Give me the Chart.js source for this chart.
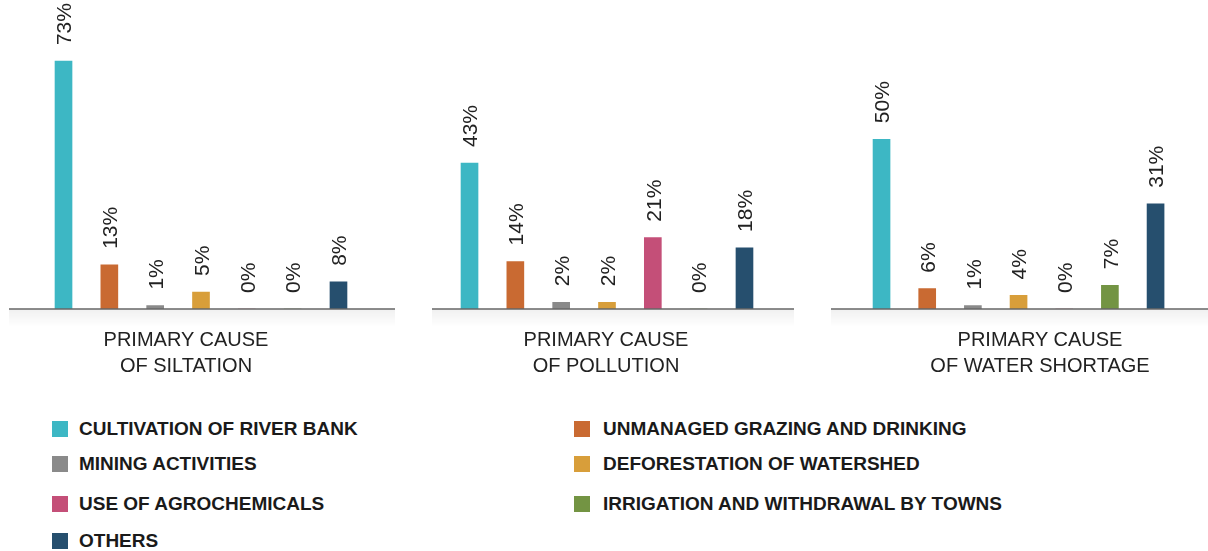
<!DOCTYPE html>
<html>
<head>
<meta charset="utf-8">
<script src="https://cdn.jsdelivr.net/npm/chart.js@4.4.1/dist/chart.umd.min.js"></script>
<style>
  html, body { margin: 0; padding: 0; background: #fff; }
  body { width: 1208px; height: 551px; position: relative; overflow: hidden; font-family: "Liberation Sans", Arial, sans-serif; }
  .panel { position: absolute; top: 0; height: 330px; }
  .title { position: absolute; top: 326px; font-size: 20px; line-height: 26px; color: #222; text-align: center; white-space: nowrap; transform: translateX(-50%); }
  .leg { position: absolute; display: flex; align-items: center; height: 16px; font-size: 19px; font-weight: bold; color: #1a1a1a; white-space: nowrap; line-height: 18px; }
  .leg .sw { width: 16px; height: 16px; margin-right: 11px; flex: none; }
</style>
</head>
<body>
<div class="panel" style="left:9px;width:386px"><canvas id="c0"></canvas></div>
<div class="panel" style="left:432px;width:362px"><canvas id="c1"></canvas></div>
<div class="panel" style="left:831px;width:377px"><canvas id="c2"></canvas></div>
<div id="titles"></div>
<div id="legend"></div>
<script>
// ---- data ----
const categories = [
  "CULTIVATION OF RIVER BANK",
  "UNMANAGED GRAZING AND DRINKING",
  "MINING ACTIVITIES",
  "DEFORESTATION OF WATERSHED",
  "USE OF AGROCHEMICALS",
  "IRRIGATION AND WITHDRAWAL BY TOWNS",
  "OTHERS"
];
const siltation    = [73, 13, 1, 5, 0, 0, 8];
const pollution    = [43, 14, 2, 2, 21, 0, 18];
const waterShortage = [50, 6, 1, 4, 0, 7, 31];
const panelTitles = [
  ["PRIMARY CAUSE", "OF SILTATION"],
  ["PRIMARY CAUSE", "OF POLLUTION"],
  ["PRIMARY CAUSE", "OF WATER SHORTAGE"]
];

// ---- styles ----
const colors = ["#3db7c4", "#c96a32", "#8a8a8a", "#d89e3a", "#c44f78", "#739443", "#264f6e"];
const panelSeries = [siltation, pollution, waterShortage];
const paddings = [
  {left: 31.6, right: 33.6, top: 0, bottom: 21},
  {left: 14.6, right: 26.6, top: 0, bottom: 21},
  {left: 27.7, right: 29.6, top: 0, bottom: 21}
];
const titleCenters = [186, 606, 1040];

const baselinePlugin = {
  id: 'baseline',
  beforeDatasetsDraw(chart) {
    const ctx = chart.ctx, b = chart.chartArea.bottom, w = chart.width;
    const g = ctx.createLinearGradient(0, b, 0, b + 18);
    g.addColorStop(0, 'rgba(0,0,0,0.06)');
    g.addColorStop(1, 'rgba(0,0,0,0)');
    ctx.save();
    ctx.fillStyle = g;
    ctx.fillRect(0, b, w, 18);
    ctx.restore();
  },
  afterDatasetsDraw(chart) {
    const ctx = chart.ctx, b = chart.chartArea.bottom, w = chart.width;
    ctx.save();
    ctx.strokeStyle = '#666666';
    ctx.lineWidth = 1.6;
    ctx.beginPath();
    ctx.moveTo(0, b);
    ctx.lineTo(w, b);
    ctx.stroke();
    ctx.restore();
  }
};

const valueLabelPlugin = {
  id: 'valueLabels',
  afterDatasetsDraw(chart) {
    const ctx = chart.ctx;
    const meta = chart.getDatasetMeta(0);
    const data = chart.data.datasets[0].data;
    ctx.save();
    ctx.fillStyle = '#222';
    ctx.font = '21px "Liberation Sans", Arial, sans-serif';
    ctx.textAlign = 'left';
    ctx.textBaseline = 'middle';
    meta.data.forEach((el, i) => {
      ctx.save();
      ctx.translate(el.x + 2, el.y - 16);
      ctx.rotate(-Math.PI / 2);
      ctx.fillText(data[i] + '%', 0, 0);
      ctx.restore();
    });
    ctx.restore();
  }
};

panelSeries.forEach((series, p) => {
  new Chart(document.getElementById('c' + p), {
    type: 'bar',
    data: {
      labels: categories,
      datasets: [{
        data: series,
        backgroundColor: colors,
        borderWidth: 0,
        barThickness: 17
      }]
    },
    options: {
      responsive: true,
      maintainAspectRatio: false,
      animation: false,
      layout: { padding: paddings[p] },
      plugins: { legend: { display: false }, tooltip: { enabled: false } },
      scales: {
        x: { display: false, offset: true },
        y: { display: false, min: 0, max: 91 }
      }
    },
    plugins: [baselinePlugin, valueLabelPlugin]
  });
});

// titles
const tEl = document.getElementById('titles');
panelTitles.forEach((lines, p) => {
  const d = document.createElement('div');
  d.className = 'title';
  d.style.left = titleCenters[p] + 'px';
  d.innerHTML = lines.join('<br>');
  tEl.appendChild(d);
});

// legend (two columns, row-major)
const lEl = document.getElementById('legend');
const rowTops = [421, 456, 496, 533];
const colLefts = [52, 574];
categories.forEach((name, i) => {
  const d = document.createElement('div');
  d.className = 'leg';
  d.style.left = colLefts[i % 2] + 'px';
  d.style.top = rowTops[Math.floor(i / 2)] + 'px';
  const sw = document.createElement('span');
  sw.className = 'sw';
  sw.style.background = colors[i];
  if (i % 2 === 1) sw.style.marginRight = '13px';
  const tx = document.createElement('span');
  tx.textContent = name;
  d.appendChild(sw); d.appendChild(tx);
  lEl.appendChild(d);
});
</script>
</body>
</html>
